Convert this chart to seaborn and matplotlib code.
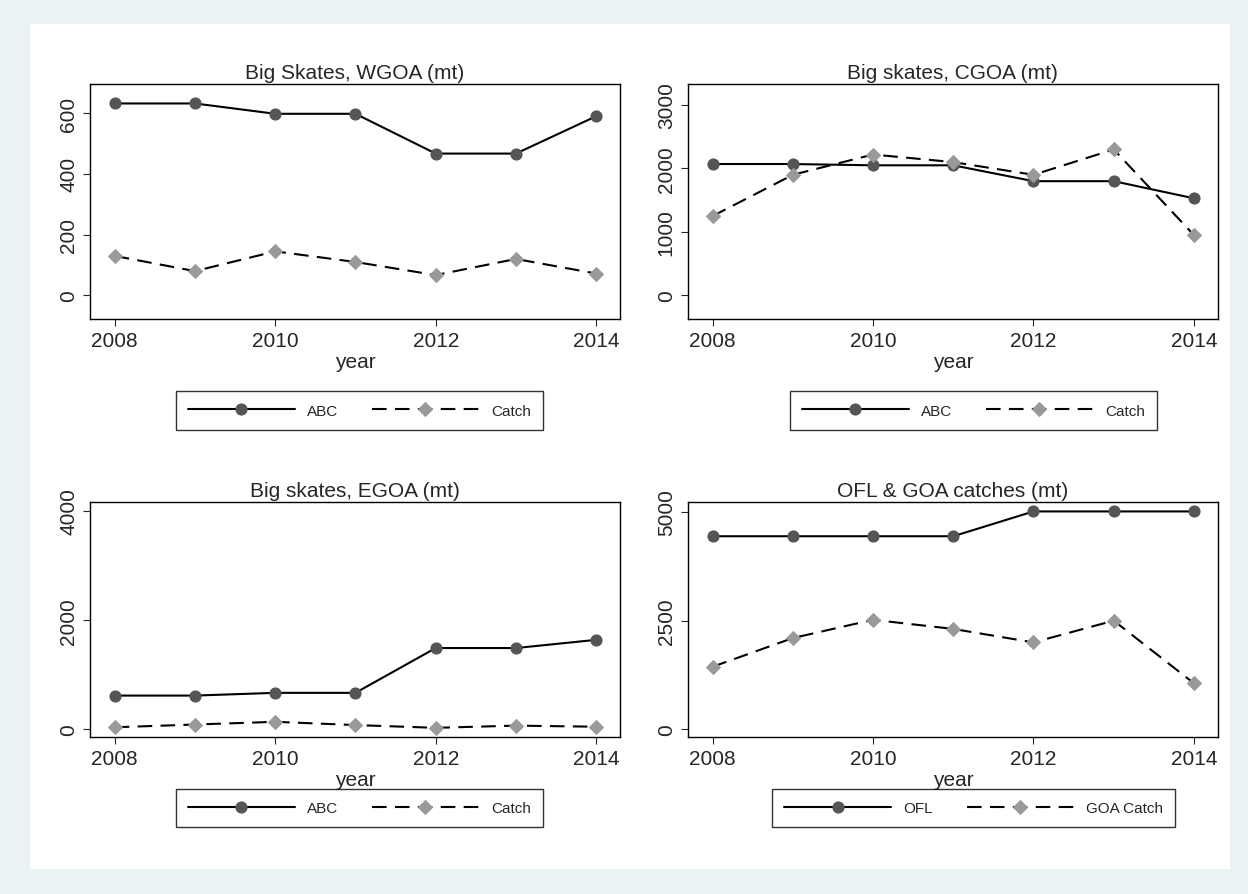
import matplotlib
matplotlib.use("Agg")
import matplotlib.pyplot as plt
import pandas as pd
import seaborn as sns

years = [2008, 2009, 2010, 2011, 2012, 2013, 2014]

wgoa_abc = [632, 632, 598, 598, 467, 467, 590]
wgoa_catch = [130, 80, 145, 110, 67, 120, 72]
cgoa_abc = [2070, 2070, 2050, 2050, 1800, 1800, 1530]
cgoa_catch = [1250, 1900, 2220, 2100, 1900, 2300, 950]
egoa_abc = [620, 620, 670, 670, 1490, 1490, 1640]
egoa_catch = [40, 90, 140, 80, 30, 70, 50]
ofl = [4440, 4440, 4440, 4440, 5010, 5010, 5010]
goa_catch = [1440, 2100, 2520, 2310, 2000, 2500, 1060]

panels = [
    ("Big Skates, WGOA (mt)", wgoa_abc, wgoa_catch, ("ABC", "Catch"), [0, 200, 400, 600], (-79, 696)),
    ("Big skates, CGOA (mt)", cgoa_abc, cgoa_catch, ("ABC", "Catch"), [0, 1000, 2000, 3000], (-377, 3330)),
    ("Big skates, EGOA (mt)", egoa_abc, egoa_catch, ("ABC", "Catch"), [0, 2000, 4000], (-145, 4163)),
    ("OFL & GOA catches (mt)", ofl, goa_catch, ("OFL", "GOA Catch"), [0, 2500, 5000], (-182, 5227)),
]

BG = "#eaf2f3"
sns.set_style("white")
plt.rcParams["font.family"] = ["Liberation Sans", "DejaVu Sans"]

fig = plt.figure(figsize=(12.48, 8.95), dpi=100, facecolor=BG)
fig.patches.append(plt.Rectangle((30 / 1248, 25 / 895), 1200 / 1248, 845 / 895,
                                 transform=fig.transFigure, facecolor="white", edgecolor="none", zorder=-1))

positions = [(0.072, 0.642), (0.551, 0.642), (0.072, 0.175), (0.551, 0.175)]
legend_pos = [(0.288, 0.54), (0.78, 0.54), (0.288, 0.096), (0.78, 0.096)]

for (title, s1, s2, labels, yticks, ylim), (l, b), lp in zip(panels, positions, legend_pos):
    ax = fig.add_axes([l, b, 0.425, 0.263])
    df = pd.DataFrame({"year": years, "a": s1, "c": s2})
    sns.lineplot(data=df, x="year", y="a", ax=ax, color="black", lw=1.5, marker="o",
                 markersize=8, markerfacecolor="#555555", markeredgecolor="#555555", label=labels[0])
    sns.lineplot(data=df, x="year", y="c", ax=ax, color="black", lw=1.5, linestyle=(0, (7, 4)), marker="D",
                 markersize=7, markerfacecolor="#999999", markeredgecolor="#999999", label=labels[1])
    ax.set_xlim(2007.69, 2014.3)
    ax.set_ylim(*ylim)
    ax.set_xticks([2008, 2010, 2012, 2014])
    ax.set_yticks(yticks)
    ax.set_yticklabels([str(v) for v in yticks], rotation=90, va="center")
    ax.tick_params(direction="out", length=5, labelsize=15, left=True, bottom=True)
    ax.set_xlabel("year", fontsize=15, labelpad=1)
    ax.set_ylabel("")
    ax.set_title(title, fontsize=15, pad=4)
    for sp in ax.spines.values():
        sp.set_color("black")
        sp.set_linewidth(1)
    h, lab = ax.get_legend_handles_labels()
    ax.get_legend().remove()
    fig.legend(h, lab, loc="center", bbox_to_anchor=lp, ncol=2, fontsize=11, frameon=True,
               fancybox=False, edgecolor="black", handlelength=7, columnspacing=2.2, borderpad=0.8)

fig.savefig("out.png", dpi=100, facecolor=BG)
